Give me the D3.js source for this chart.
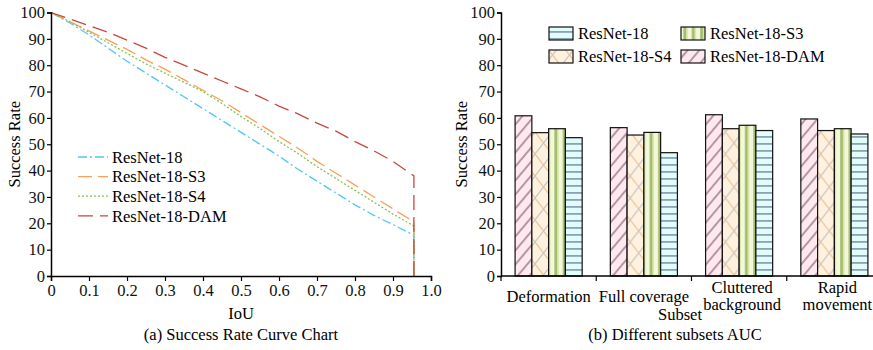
<!DOCTYPE html>
<html>
<head>
<meta charset="utf-8">
<script src="https://cdn.jsdelivr.net/npm/d3@7"></script>
<style>
  body { margin: 0; background: #fff; }
  svg { display: block; font-family: "Liberation Serif", "Times New Roman", serif; }
</style>
</head>
<body>
<svg id="chart" width="873" height="350"></svg>
<script>
// ---- (a) success rate curves ----
const iou = [0, 0.05, 0.1, 0.15, 0.2, 0.25, 0.3, 0.35, 0.4, 0.45, 0.5, 0.55, 0.6, 0.65, 0.7, 0.75, 0.8, 0.85, 0.9, 0.955, 0.955];
const rateR18 = [100, 96, 91.5, 86.5, 81.5, 77, 72.5, 68, 63.5, 59, 54.5, 50, 45.5, 40.5, 36, 31.5, 27, 23, 19.5, 15.5, 0];
const rateS3  = [100, 96.5, 93, 89.5, 86, 82, 78.5, 74.5, 70.5, 66.5, 62, 57.5, 53, 48.5, 43.5, 39, 34.5, 30, 25.5, 20.5, 0];
const rateS4  = [100, 96.5, 92.5, 88.5, 84.5, 80.5, 77, 73.5, 70, 65.5, 60.5, 56, 51, 46.5, 41.5, 37, 32.5, 28, 23.5, 19, 0];
const rateDAM = [100, 97.5, 95, 92.5, 89.5, 86.5, 83, 80, 77, 74, 71, 68, 64.5, 61.5, 58, 55, 51, 47.5, 43.5, 38, 0];
const curveNames = ["ResNet-18", "ResNet-18-S3", "ResNet-18-S4", "ResNet-18-DAM"];
const xTicks = [0, 0.1, 0.2, 0.3, 0.4, 0.5, 0.6, 0.7, 0.8, 0.9, 1.0];
const yTicks = [0, 10, 20, 30, 40, 50, 60, 70, 80, 90, 100];

// ---- (b) subset AUC bars ----
const subsets = ["Deformation", "Full coverage", "Cluttered background", "Rapid movement"];
const subsetLines = [["Deformation"], ["Full coverage"], ["Cluttered", "background"], ["Rapid", "movement"]];
const barSeries = ["ResNet-18-DAM", "ResNet-18-S4", "ResNet-18-S3", "ResNet-18"];
const aucDAM = [60.8, 56.3, 61.2, 59.6];
const aucS4  = [54.4, 53.5, 55.9, 55.2];
const aucS3  = [55.9, 54.5, 57.2, 55.9];
const aucR18 = [52.5, 46.8, 55.2, 53.9];

const svg = d3.select("#chart");
const FS = 16.5;

// line styles per series
const lineStyle = {
  "ResNet-18":     { color: "#55c6f2", dash: "9,3,2,3" },
  "ResNet-18-S3":  { color: "#f5a25a", dash: "14,6" },
  "ResNet-18-S4":  { color: "#8dc050", dash: "2,2" },
  "ResNet-18-DAM": { color: "#c9473d", dash: "15,7" }
};

// patterns for bars
const defs = svg.append("defs");
function pat(id, w, h, draw, transform) {
  const p = defs.append("pattern").attr("id", id)
    .attr("patternUnits", "userSpaceOnUse").attr("width", w).attr("height", h);
  if (transform) p.attr("patternTransform", transform);
  draw(p);
}
pat("pDAM", 9, 9, p => {
  p.append("rect").attr("width", 9).attr("height", 9).attr("fill", "#fde9ee");
  p.append("rect").attr("x", 0).attr("width", 2).attr("height", 9).attr("fill", "#b796a6");
}, "rotate(40)");
pat("pS4", 17, 22, p => {
  p.append("rect").attr("width", 17).attr("height", 22).attr("fill", "#fff1df");
  p.append("path").attr("d", "M0,0L17,22").attr("stroke", "#eac59a").attr("stroke-width", 1.2);
  p.append("path").attr("d", "M17,0L0,22").attr("stroke", "#c9c4c4").attr("stroke-width", 1.2);
});
pat("pS3", 8.4, 10, p => {
  p.append("rect").attr("width", 8.4).attr("height", 10).attr("fill", "#f4f8d8");
  p.append("rect").attr("x", 3).attr("width", 2.6).attr("height", 10).attr("fill", "#a3bd70");
  p.append("rect").attr("x", 5.6).attr("width", 1.6).attr("height", 10).attr("fill", "#d3e2a4");
});
pat("pR18", 10, 7, p => {
  p.append("rect").attr("width", 10).attr("height", 7).attr("fill", "#e2fbfb");
  p.append("rect").attr("y", 3).attr("width", 10).attr("height", 1.8).attr("fill", "#8ea2b4");
});
const barFill = {
  "ResNet-18-DAM": "url(#pDAM)", "ResNet-18-S4": "url(#pS4)",
  "ResNet-18-S3": "url(#pS3)", "ResNet-18": "url(#pR18)"
};

// ================= left chart =================
const xL = d3.scaleLinear().domain([0, 1]).range([51, 431]);
const yL = d3.scaleLinear().domain([0, 100]).range([276, 12.5]);
const gL = svg.append("g");

const curves = [rateR18, rateS3, rateS4, rateDAM];
const line = d3.line().x((d, i) => xL(iou[i])).y(d => yL(d));
curves.forEach((vals, k) => {
  const st = lineStyle[curveNames[k]];
  gL.append("path").datum(vals).attr("d", line)
    .attr("fill", "none").attr("stroke", st.color).attr("stroke-width", 1.3)
    .attr("stroke-dasharray", st.dash);
});

const axL = gL.append("g").attr("transform", "translate(0,276)")
  .call(d3.axisBottom(xL).tickValues(xTicks).tickSize(5).tickPadding(3)
    .tickFormat(d => d === 0 ? "0" : d3.format(".1f")(d)));
const ayL = gL.append("g").attr("transform", "translate(51,0)")
  .call(d3.axisLeft(yL).tickValues(yTicks).tickSize(4).tickPadding(2));
[axL, ayL].forEach(a => {
  a.select(".domain").attr("stroke", "#000").attr("stroke-width", 1.5);
  a.selectAll(".tick line").attr("stroke", "#000").attr("stroke-width", 1.2);
  a.selectAll("text").attr("font-family", "Liberation Serif").attr("font-size", FS).attr("fill", "#111");
});

gL.append("text").attr("x", xL(0.5)).attr("y", 319).attr("text-anchor", "middle")
  .attr("font-size", FS).text("IoU");
gL.append("text").attr("transform", `translate(20,${yL(50)}) rotate(-90)`)
  .attr("text-anchor", "middle").attr("font-size", FS).text("Success Rate");
gL.append("text").attr("x", xL(0.5)).attr("y", 340).attr("text-anchor", "middle")
  .attr("font-size", FS).text("(a) Success Rate Curve Chart");

const legL = gL.append("g");
curveNames.forEach((n, i) => {
  const y = 157 + i * 19.6;
  const st = lineStyle[n];
  legL.append("line").attr("x1", 78).attr("x2", 108).attr("y1", y).attr("y2", y)
    .attr("stroke", st.color).attr("stroke-width", 1.3).attr("stroke-dasharray", st.dash);
  legL.append("text").attr("x", 112).attr("y", y).attr("dy", "0.35em")
    .attr("font-size", FS).text(n);
});

// ================= right chart =================
const x0 = d3.scaleBand().domain(subsets).range([501, 882]).padding(0);
const x1 = d3.scaleBand().domain(barSeries).range([0, x0.bandwidth()]).paddingInner(0).paddingOuter(0.84);
const yR = d3.scaleLinear().domain([0, 100]).range([276, 12.5]);
const gR = svg.append("g");

const aucBy = { "ResNet-18-DAM": aucDAM, "ResNet-18-S4": aucS4, "ResNet-18-S3": aucS3, "ResNet-18": aucR18 };
subsets.forEach((s, i) => {
  const grp = gR.append("g").attr("transform", `translate(${x0(s)},0)`);
  grp.selectAll("rect").data(barSeries).join("rect")
    .attr("x", d => x1(d)).attr("width", x1.bandwidth())
    .attr("y", d => yR(aucBy[d][i])).attr("height", d => yR(0) - yR(aucBy[d][i]))
    .attr("fill", d => barFill[d]).attr("stroke", "#111").attr("stroke-width", 1.2);
});

// x axis: ticks at band boundaries
const axR = gR.append("g");
axR.append("line").attr("x1", 501).attr("x2", 873).attr("y1", 276).attr("y2", 276)
  .attr("stroke", "#000").attr("stroke-width", 1.5);
axR.selectAll("line.t").data(subsets).join("line").attr("class", "t")
  .attr("x1", d => x0(d)).attr("x2", d => x0(d)).attr("y1", 276).attr("y2", 281)
  .attr("stroke", "#000").attr("stroke-width", 1.2);
subsets.forEach((s, i) => {
  const lines = subsetLines[i];
  const cx = x0(s) + x0.bandwidth() / 2 + (lines.length > 1 ? 3 : 0);
  const t = axR.append("text").attr("text-anchor", "middle").attr("font-size", FS);
  lines.forEach((l, j) => {
    t.append("tspan").attr("x", cx)
      .attr("y", lines.length > 1 ? 293 + j * 17 : 302).text(l);
  });
});
gR.append("text").attr("x", 680).attr("y", 320).attr("text-anchor", "middle")
  .attr("font-size", FS).text("Subset");
gR.append("text").attr("x", 675).attr("y", 340).attr("text-anchor", "middle")
  .attr("font-size", FS).text("(b) Different subsets AUC");

const ayR = gR.append("g").attr("transform", "translate(501,0)")
  .call(d3.axisLeft(yR).tickValues(yTicks).tickSize(4).tickPadding(2));
ayR.select(".domain").attr("stroke", "#000").attr("stroke-width", 1.5);
ayR.selectAll(".tick line").attr("stroke", "#000").attr("stroke-width", 1.2);
ayR.selectAll("text").attr("font-family", "Liberation Serif").attr("font-size", FS).attr("fill", "#111");
gR.append("text").attr("transform", `translate(467,${yR(50)}) rotate(-90)`)
  .attr("text-anchor", "middle").attr("font-size", FS).text("Success Rate");

// legend 2x2
const legOrder = ["ResNet-18", "ResNet-18-S3", "ResNet-18-S4", "ResNet-18-DAM"];
legOrder.forEach((n, i) => {
  const col = i % 2, row = Math.floor(i / 2);
  const bx = col === 0 ? 549 : 681;
  const by = 27 + row * 23;
  gR.append("rect").attr("x", bx).attr("y", by).attr("width", 24).attr("height", 13)
    .attr("fill", barFill[n]).attr("stroke", "#111").attr("stroke-width", 1.2);
  gR.append("text").attr("x", bx + 29).attr("y", by + 6.5).attr("dy", "0.35em")
    .attr("font-size", FS).text(n);
});
</script>
</body>
</html>
